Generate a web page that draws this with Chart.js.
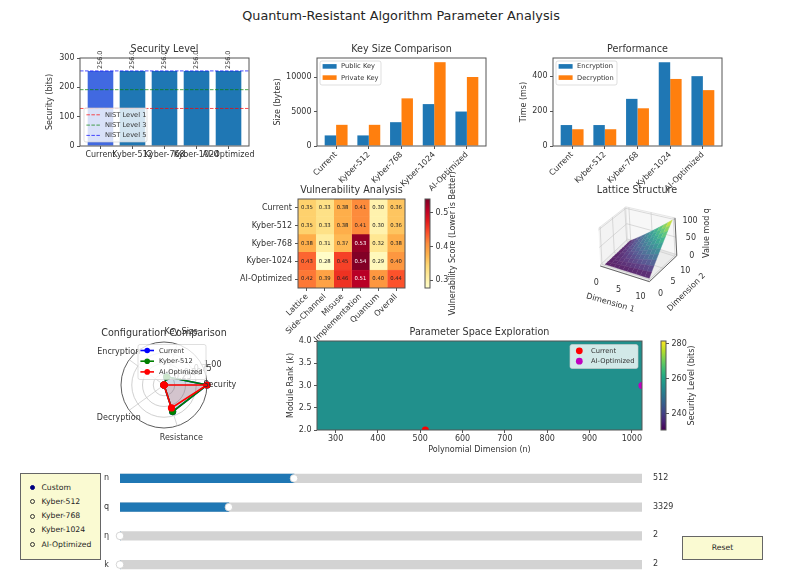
<!DOCTYPE html>
<html lang="en">
<head>
<meta charset="UTF-8" />
<title>Quantum-Resistant Algorithm Parameter Analysis</title>
<script src="https://cdn.jsdelivr.net/npm/chart.js@4"></script>
<style>
  html, body { margin: 0; padding: 0; background: #fff; overflow: hidden; width: 802px; height: 573px; }
  body { position: relative; font-family: "DejaVu Sans", sans-serif; color: #262626; }
  canvas { position: absolute; }
  #mainTitle { position: absolute; left: 0; width: 802px; top: 8px; text-align: center; font-size: 12.8px; line-height: 16px; }
  #radioBox { position: absolute; left: 20px; top: 473px; width: 79px; height: 85px; background: #fafad2; border: 1px solid #666; }
  .radio { position: absolute; left: 20.5px; font-size: 7.7px; line-height: 10px; white-space: nowrap; }
  .dot { position: absolute; left: -11.5px; top: 2.5px; width: 3px; height: 3px; border: 1px solid #333; border-radius: 50%; background: #fafad2; }
  .dot.on { background: #000080; border-color: #000080; }
  #resetBtn { position: absolute; left: 682px; top: 536px; width: 79px; height: 22px; background: #fafad2; border: 1px solid #666; text-align: center; font-size: 7.7px; line-height: 21px; }
</style>
</head>
<body>
<div id="mainTitle">Quantum-Resistant Algorithm Parameter Analysis</div>
<div id="radioBox"></div>
<div id="resetBtn">Reset</div>

<script>
// data
const configs = ['Current', 'Kyber-512', 'Kyber-768', 'Kyber-1024', 'AI-Optimized'];
const securityBits = [256, 256, 256, 256, 256];
const securityTicks = [0, 100, 200, 300];
const nistLevels = [128, 192, 256];
const nistNames = ['NIST Level 1', 'NIST Level 3', 'NIST Level 5'];

const publicKey = [1536, 1536, 3456, 6080, 5000];
const privateKey = [3072, 3072, 6912, 12160, 10000];
const keyTicks = [0, 5000, 10000];

const encryption = [120, 120, 270, 480, 400];
const decryption = [96, 96, 216, 384, 320];
const perfTicks = [0, 200, 400];

const vulnCols = ['Lattice', 'Side-Channel', 'Misuse', 'Implementation', 'Quantum', 'Overall'];
const vulnRows = [
  [0.35, 0.33, 0.38, 0.41, 0.30, 0.36],
  [0.35, 0.33, 0.38, 0.41, 0.30, 0.36],
  [0.38, 0.31, 0.37, 0.53, 0.32, 0.38],
  [0.43, 0.28, 0.45, 0.54, 0.29, 0.40],
  [0.42, 0.39, 0.46, 0.51, 0.40, 0.44]
];
const vulnTicks = [0.3, 0.4, 0.5];

const latticeTicks = [0, 5, 10];
const latticeZTicks = [0, 50, 100];
const latticeValues = [
  [0, 0, 0, 0, 0, 0, 0, 0, 0, 0, 0],
  [0, 1, 2, 3, 4, 5, 6, 7, 8, 9, 10],
  [0, 2, 4, 6, 8, 10, 12, 14, 16, 18, 20],
  [0, 3, 6, 9, 12, 15, 18, 21, 24, 27, 30],
  [0, 4, 8, 12, 16, 20, 24, 28, 32, 36, 40],
  [0, 5, 10, 15, 20, 25, 30, 35, 40, 45, 50],
  [0, 6, 12, 18, 24, 30, 36, 42, 48, 54, 60],
  [0, 7, 14, 21, 28, 35, 42, 49, 56, 63, 70],
  [0, 8, 16, 24, 32, 40, 48, 56, 64, 72, 80],
  [0, 9, 18, 27, 36, 45, 54, 63, 72, 81, 90],
  [0, 10, 20, 30, 40, 50, 60, 70, 80, 90, 100]
];

// clockwise from the right, the way the radar scale walks round
const radarAxes = ['Security', 'Resistance', 'Decryption', 'Encryption', 'Key Size'];
const radarCurrent = [1, 0.65, 0, 0, 0.2];
const radarKyber = [1, 0.65, 0, 0, 0.2];
const radarAI = [1, 0.56, 0, 0, 0];
const radarTicks = [0.25, 0.5, 0.75, 1];

const paramNRange = [256, 1024];
const paramKRange = [2, 4];
const paramSecurity = 256;
const paramXTicks = [300, 400, 500, 600, 700, 800, 900, 1000];
const paramYTicks = [2, 2.5, 3, 3.5, 4];
const currentPoint = [512, 2];
const aiPoint = [1024, 3];
const securityBarTicks = [240, 260, 280];

const sliderNames = ['n', 'q', 'η', 'k'];
const sliderValues = [512, 3329, 2, 2];
const sliderMins = [256, 2048, 2, 2];
const sliderMaxes = [1024, 8192, 4, 4];
const radioOptions = ['Custom', 'Kyber-512', 'Kyber-768', 'Kyber-1024', 'AI-Optimized'];

const FONT = '"DejaVu Sans", sans-serif';
const TXT = '#333';
const EDGE = '#555';
const M = 100, T = 40, B = 80;

Chart.defaults.font.family = FONT;
Chart.defaults.font.size = 8;
Chart.defaults.color = TXT;
Chart.defaults.animation = false;

// titles centre on the plot, not on the padded box, and may run wider than it
Chart.register({
  id: 'titleOverPlot',
  afterLayout(chart) {
    const t = chart.titleBlock, a = chart.chartArea;
    if (t && a) { t.left = a.left - 60; t.right = a.right + 60; }
  }
});

const viridis = ['#440154', '#482475', '#414487', '#355f8d', '#2a788e', '#21918c', '#22a884', '#44bf70', '#7ad151', '#bddf26', '#fde725'];
const ylOrRd = ['#ffffcc', '#ffeda0', '#fed976', '#feb24c', '#fd8d3c', '#fc4e2a', '#e31a1c', '#bd0026', '#800026'];

function hex(c) { return [1, 3, 5].map(i => parseInt(c.substr(i, 2), 16)); }
function cmap(stops, t, wash) {
  t = Math.max(0, Math.min(1, t)) * (stops.length - 1);
  const i = Math.min(Math.floor(t), stops.length - 2), f = t - i;
  const a = hex(stops[i]), b = hex(stops[i + 1]);
  const w = wash || 0;
  return `rgb(${a.map((v, k) => Math.round((v + (b[k] - v) * f) * (1 - w) + 225 * w)).join(',')})`;
}
function gradient(stops) {
  return ctx => {
    const area = ctx.chart.chartArea;
    if (!area) return stops[0];
    const g = ctx.chart.ctx.createLinearGradient(0, area.bottom, 0, area.top);
    stops.forEach((c, i) => g.addColorStop(i / (stops.length - 1), c));
    return g;
  };
}

// put a canvas so the plot area lands on a given page rectangle
function addCanvas(rect) {
  const c = document.createElement('canvas');
  c.width = rect.r - rect.l + 2 * M;
  c.height = rect.b - rect.t + T + B;
  c.style.left = (rect.l - M) + 'px';
  c.style.top = (rect.t - T) + 'px';
  c.style.width = c.width + 'px';
  c.style.height = c.height + 'px';
  document.body.appendChild(c);
  return c;
}
function padding(title, yw, xh, right) {
  const top = title ? T - 14.52 : T;
  return right ? { left: M, right: M - yw, top, bottom: B - xh } : { left: M - yw, right: M, top, bottom: B - xh };
}
function titleOpt(text) {
  return text ? { display: true, text, color: TXT, font: { size: 9.6, weight: 'normal' }, padding: { top: 0, bottom: 3 } } : { display: false };
}
const tickGrid = { drawOnChartArea: false, drawTicks: true, tickLength: 3, tickColor: EDGE, offset: false };

function xAxis(opts) {
  return Object.assign({
    type: 'linear', offset: false, grid: tickGrid, border: { display: false },
    afterFit(s) { s.height = opts.height; s.paddingLeft = s.paddingRight = 0; },
    afterBuildTicks(s) { s.ticks = opts.tickValues.map(value => ({ value })); },
    ticks: { autoSkip: false, padding: 1, minRotation: opts.rot || 0, maxRotation: opts.rot || 0, callback: opts.label }
  }, opts.extra);
}
function yAxis(opts) {
  return Object.assign({
    type: 'linear', grid: tickGrid, border: { display: false },
    afterFit(s) { s.width = opts.width; s.paddingTop = s.paddingBottom = 0; },
    afterBuildTicks(s) { s.ticks = opts.tickValues.map(value => ({ value })); },
    ticks: { autoSkip: false, padding: 2.5, callback: opts.label || (v => String(v)) }
  }, opts.extra);
}
function axisTitle(text) {
  return { display: true, text, color: TXT, padding: 0, font: { size: 8 } };
}

const framePlugin = {
  id: 'frame',
  afterDatasetsDraw(chart) {
    const a = chart.chartArea, c = chart.ctx;
    c.save();
    c.strokeStyle = EDGE;
    c.lineWidth = 1;
    c.strokeRect(a.left, a.top, a.right - a.left, a.bottom - a.top);
    c.restore();
  }
};

// legend box sitting inside the axes, offsets are from the chart area
function boxLegend(o) {
  return {
    id: 'boxLegend',
    afterDraw(chart) {
      const a = chart.chartArea, c = chart.ctx;
      const x = a.left + o.x, y = a.top + o.y;
      c.save();
      c.fillStyle = 'rgba(255,255,255,0.8)';
      c.strokeStyle = 'rgba(204,204,204,0.8)';
      c.lineWidth = 0.8;
      c.beginPath();
      c.roundRect(x, y, o.w, o.h, 2);
      c.fill();
      c.stroke();
      c.font = '6.7px ' + FONT;
      c.textBaseline = 'middle';
      o.items.forEach((it, i) => {
        const ry = y + o.first + i * o.gap;
        if (it.kind === 'swatch') {
          c.fillStyle = it.color;
          c.fillRect(x + 2.6, ry - 2.3, 14, 4.6);
        } else if (it.kind === 'marker') {
          c.fillStyle = it.color;
          c.beginPath();
          c.arc(x + 9.3, ry, 3.4, 0, Math.PI * 2);
          c.fill();
        } else {
          c.strokeStyle = it.color;
          c.lineWidth = it.dash ? 1 : 1.6;
          c.setLineDash(it.dash || []);
          c.beginPath();
          c.moveTo(x + 2.4, ry);
          c.lineTo(x + 16, ry);
          c.stroke();
          c.setLineDash([]);
          if (it.dot) {
            c.fillStyle = it.color;
            c.beginPath();
            c.arc(x + 9.2, ry, 2.8, 0, Math.PI * 2);
            c.fill();
          }
        }
        c.fillStyle = TXT;
        c.textAlign = 'left';
        c.fillText(it.label, x + 21, ry + 0.3);
      });
      c.restore();
    }
  };
}

// --- Security Level ---
const secRect = { l: 80, r: 249, t: 58, b: 146 };
const secLim = [-0.64, 4.64];
const nistColors = ['rgba(255,0,0,0.7)', 'rgba(0,128,0,0.7)', 'rgba(0,0,255,0.7)'];
new Chart(addCanvas(secRect), {
  type: 'bar',
  data: {
    datasets: [
      {
        label: 'Security', order: 5,
        data: securityBits.map((y, x) => ({ x, y })),
        backgroundColor: configs.map((_, i) => i === 0 ? '#4169e1' : '#1f77b4'),
        barPercentage: 1, categoryPercentage: 0.8
      }
    ].concat(nistLevels.map((y, i) => ({
      type: 'line', label: nistNames[i], order: 3 - i,
      data: secLim.map(x => ({ x, y })),
      borderColor: nistColors[i], borderWidth: 1, borderDash: [3.5, 1.5], pointRadius: 0
    })))
  },
  options: {
    responsive: false, layout: { padding: padding(true, 35, 15) },
    plugins: { legend: { display: false }, tooltip: { enabled: false }, title: titleOpt('Security Level') },
    scales: {
      x: xAxis({ height: 15, tickValues: configs.map((_, i) => i), label: v => configs[v], extra: { min: secLim[0], max: secLim[1] } }),
      y: yAxis({ width: 35, tickValues: securityTicks, extra: { min: 0, max: 300, title: axisTitle('Security (bits)') } })
    }
  },
  plugins: [framePlugin, {
    id: 'barLabels',
    afterDatasetsDraw(chart) {
      const c = chart.ctx;
      const sx = chart.scales.x, sy = chart.scales.y;
      c.save();
      c.font = '6.4px ' + FONT;
      c.fillStyle = TXT;
      c.textBaseline = 'middle';
      c.textAlign = 'left';
      securityBits.forEach((v, i) => {
        c.save();
        c.translate(sx.getPixelForValue(i), sy.getPixelForValue(v) - 2);
        c.rotate(-Math.PI / 2);
        c.fillText(v.toFixed(1), 0, 0);
        c.restore();
      });
      c.restore();
    }
  }, boxLegend({
    x: 4, y: 50, w: 63, h: 34, first: 6.8, gap: 10.3,
    items: nistNames.map((label, i) => ({ kind: 'line', color: nistColors[i], dash: [3.5, 1.5], label }))
  })]
});

// --- grouped bar panels ---
function groupedBars(rect, title, yLabel, yw, names, a, b, yMax, ticks) {
  const lim = [-0.585, 4.585];
  const colors = ['#1f77b4', '#ff7f0e'];
  new Chart(addCanvas(rect), {
    type: 'bar',
    data: {
      datasets: [a, b].map((vals, k) => ({
        label: names[k],
        data: vals.map((y, x) => ({ x, y })),
        backgroundColor: colors[k],
        barPercentage: 1, categoryPercentage: 0.7
      }))
    },
    options: {
      responsive: false, layout: { padding: padding(true, yw, B) },
      plugins: { legend: { display: false }, tooltip: { enabled: false }, title: titleOpt(title) },
      scales: {
        x: xAxis({ height: B, rot: 45, tickValues: configs.map((_, i) => i), label: v => configs[v], extra: { min: lim[0], max: lim[1] } }),
        y: yAxis({ width: yw, tickValues: ticks, extra: { min: 0, max: yMax, title: axisTitle(yLabel) } })
      }
    },
    plugins: [framePlugin, boxLegend({
      x: 3, y: 3, w: 61, h: 24, first: 5.4, gap: 11.2,
      items: names.map((label, k) => ({ kind: 'swatch', color: colors[k], label }))
    })]
  });
}
groupedBars({ l: 317, r: 486, t: 58, b: 146 }, 'Key Size Comparison', 'Size (bytes)', 44, ['Public Key', 'Private Key'], publicKey, privateKey, 12768, keyTicks);
groupedBars({ l: 553, r: 722, t: 58, b: 146 }, 'Performance', 'Time (ms)', 34, ['Encryption', 'Decryption'], encryption, decryption, 504, perfTicks);

// --- Vulnerability heatmap, one floating bar per cell ---
const vulnMin = 0.277, vulnMax = 0.541;
const heatRect = { l: 298, r: 405, t: 199, b: 288 };
new Chart(addCanvas(heatRect), {
  type: 'bar',
  data: {
    labels: configs,
    datasets: vulnCols.map((name, c) => ({
      label: name,
      data: vulnRows.map(() => [c - 0.5, c + 0.5]),
      backgroundColor: vulnRows.map(r => cmap(ylOrRd, (r[c] - vulnMin) / (vulnMax - vulnMin))),
      borderColor: vulnRows.map(r => cmap(ylOrRd, (r[c] - vulnMin) / (vulnMax - vulnMin))),
      borderWidth: 0.3,
      barPercentage: 1, categoryPercentage: 1, grouped: false
    }))
  },
  options: {
    indexAxis: 'y', responsive: false, layout: { padding: padding(true, 58, B) },
    plugins: { legend: { display: false }, tooltip: { enabled: false }, title: titleOpt('Vulnerability Analysis') },
    scales: {
      x: xAxis({ height: B, rot: 45, tickValues: vulnCols.map((_, i) => i), label: v => vulnCols[v], extra: { min: -0.5, max: 5.5 } }),
      y: {
        type: 'category', grid: { drawOnChartArea: false, tickLength: 3, tickColor: EDGE, offset: false },
        border: { display: false }, ticks: { padding: 3, autoSkip: false },
        afterFit(s) { s.width = 58; s.paddingTop = s.paddingBottom = 0; }
      }
    }
  },
  plugins: [framePlugin, {
    id: 'cellText',
    afterDatasetsDraw(chart) {
      const c = chart.ctx;
      c.save();
      c.font = '5.3px ' + FONT;
      c.textAlign = 'center';
      c.textBaseline = 'middle';
      vulnRows.forEach((r, row) => r.forEach((v, col) => {
        c.fillStyle = v >= 0.5 ? '#fff' : '#222';
        c.fillText(v.toFixed(2), chart.scales.x.getPixelForValue(col), chart.scales.y.getPixelForValue(row));
      }));
      c.restore();
    }
  }]
});

// colorbars: one tall floating bar on a value axis, label reads upward
function colorbar(rect, stops, min, max, ticks, labelOffset, label, fmt) {
  new Chart(addCanvas(rect), {
    type: 'bar',
    data: { labels: [''], datasets: [{ data: [[min, max]], backgroundColor: gradient(stops), barPercentage: 1, categoryPercentage: 1 }] },
    options: {
      responsive: false, layout: { padding: padding(false, 30, 0, true) },
      plugins: { legend: { display: false }, tooltip: { enabled: false } },
      scales: {
        x: { display: false },
        y: yAxis({ width: 30, tickValues: ticks, label: fmt, extra: { position: 'right', min, max } })
      }
    },
    plugins: [framePlugin, {
      id: 'barLabel',
      afterDatasetsDraw(chart) {
        const a = chart.chartArea, c = chart.ctx;
        c.save();
        c.font = '8px ' + FONT;
        c.fillStyle = TXT;
        c.textAlign = 'center';
        c.textBaseline = 'middle';
        c.translate(a.right + labelOffset, (a.top + a.bottom) / 2);
        c.rotate(-Math.PI / 2);
        c.fillText(label, 0, 0);
        c.restore();
      }
    }]
  });
}
colorbar({ l: 425, r: 430, t: 199, b: 288 }, ylOrRd, vulnMin, vulnMax, vulnTicks, 23, 'Vulnerability Score (Lower is Better)', v => v.toFixed(1));

// --- Lattice surface, projected by hand on a hidden page-pixel scale ---
const latRect = { l: 577, r: 697, t: 199, b: 310 };
function project(i, j, z) {
  const f = 1 - 0.011 * (j - i);
  return { x: 605 + 4.43 * i + 2.47 * j - 0.017 * z, y: 264.3 + 1.4 * i - 2.33 * j - 0.35 * z * f };
}
const bx = [-0.7, 10.4], bz = [-3, 105];
function poly(pts, fill, stroke, order, width) {
  return {
    showLine: true, tension: 0, pointRadius: 0, order, data: pts,
    backgroundColor: fill, borderColor: stroke, borderWidth: width, fill: fill ? 'shape' : false
  };
}
const latSets = [];
// panes
latSets.push(poly([project(bx[0], bx[0], bz[0]), project(bx[1], bx[0], bz[0]), project(bx[1], bx[1], bz[0]), project(bx[0], bx[1], bz[0])], '#ececec', '#e0e0e0', 900, 0.6));
latSets.push(poly([project(bx[0], bx[0], bz[0]), project(bx[0], bx[1], bz[0]), project(bx[0], bx[1], bz[1]), project(bx[0], bx[0], bz[1])], '#f3f3f3', '#d8d8d8', 900, 0.6));
latSets.push(poly([project(bx[0], bx[1], bz[0]), project(bx[1], bx[1], bz[0]), project(bx[1], bx[1], bz[1]), project(bx[0], bx[1], bz[1])], '#f7f7f7', '#d8d8d8', 900, 0.6));
// grid lines on panes
latticeTicks.forEach(t => {
  latSets.push(poly([project(bx[0], t, bz[0]), project(bx[0], t, bz[1])], null, '#c4c4c4', 800, 0.6));
  latSets.push(poly([project(t, bx[1], bz[0]), project(t, bx[1], bz[1])], null, '#c4c4c4', 800, 0.6));
  latSets.push(poly([project(t, bx[0], bz[0]), project(t, bx[1], bz[0])], null, '#c4c4c4', 800, 0.6));
  latSets.push(poly([project(bx[0], t, bz[0]), project(bx[1], t, bz[0])], null, '#c4c4c4', 800, 0.6));
});
latticeZTicks.forEach(z => {
  latSets.push(poly([project(bx[0], bx[0], z), project(bx[0], bx[1], z), project(bx[1], bx[1], z)], null, '#c4c4c4', 800, 0.6));
});
// surface, far cells first
for (let i = 0; i < latticeValues.length - 1; i++) {
  for (let j = 0; j < latticeValues[i].length - 1; j++) {
    const v = latticeValues;
    const col = cmap(viridis, (v[i][j] + v[i + 1][j] + v[i][j + 1] + v[i + 1][j + 1]) / 400, 0.15);
    latSets.push(poly([
      project(i, j, v[i][j]), project(i + 1, j, v[i + 1][j]),
      project(i + 1, j + 1, v[i + 1][j + 1]), project(i, j + 1, v[i][j + 1])
    ], col, col, 300 + j - i, 0.4));
  }
}
// axis edges
latSets.push(poly([project(bx[0], bx[0], bz[0]), project(bx[1], bx[0], bz[0]), project(bx[1], bx[1], bz[0]), project(bx[1], bx[1], bz[1])], null, '#444', 1, 0.8));
new Chart(addCanvas(latRect), {
  type: 'scatter',
  data: { datasets: latSets },
  options: {
    responsive: false, layout: { padding: { left: M, right: M, top: T - 14.52, bottom: B } },
    plugins: { legend: { display: false }, tooltip: { enabled: false }, title: titleOpt('Lattice Structure') },
    scales: {
      x: { display: false, min: latRect.l, max: latRect.r },
      y: { display: false, min: latRect.t, max: latRect.b, reverse: true }
    },
    datasets: { scatter: { clip: false } }
  },
  plugins: [{
    id: 'latticeText',
    afterDatasetsDraw(chart) {
      const c = chart.ctx, sx = chart.scales.x, sy = chart.scales.y;
      const put = (text, px, py, rot) => {
        c.save();
        c.translate(sx.getPixelForValue(px), sy.getPixelForValue(py));
        if (rot) c.rotate(rot * Math.PI / 180);
        c.fillText(text, 0, 0);
        c.restore();
      };
      c.save();
      c.font = '8px ' + FONT;
      c.fillStyle = TXT;
      c.textAlign = 'center';
      c.textBaseline = 'middle';
      latticeTicks.forEach(t => {
        const p = project(t, bx[0], 0);
        put(String(t), p.x - 7, p.y + 17);
        const q = project(bx[1], t, 0);
        put(String(t), q.x + 9.5, q.y + 15);
      });
      latticeZTicks.forEach(z => {
        const p = project(bx[1], bx[1], z);
        put(String(z), p.x + 15, p.y + 1);
      });
      const d1 = project(5, bx[0], 0);
      put('Dimension 1', d1.x - 15, d1.y + 30, 16);
      const d2 = project(bx[1], 5, 0);
      put('Dimension 2', d2.x + 23, d2.y + 25, -45);
      put('Value mod q', 707, 233, -90);
      c.restore();
    }
  }]
});

// --- Radar ---
const radarRect = { l: 121, r: 207, t: 342, b: 428 };
const radarColors = ['#0000ff', '#008000', '#ff0000'];
const radarNames = ['Current', 'Kyber-512', 'AI-Optimized'];
new Chart(addCanvas(radarRect), {
  type: 'radar',
  data: {
    labels: radarAxes,
    datasets: [radarCurrent, radarKyber, radarAI].map((data, k) => ({
      label: radarNames[k], data, order: 3 - k,
      borderColor: radarColors[k], pointBackgroundColor: radarColors[k], pointBorderColor: radarColors[k],
      backgroundColor: ['rgba(0,0,255,0.1)', 'rgba(0,128,0,0.1)', 'rgba(255,0,0,0.1)'][k],
      fill: true, borderWidth: 1.6, pointRadius: 2.8, tension: 0
    }))
  },
  options: {
    responsive: false, layout: { padding: { left: M, right: M, top: T - 14.52, bottom: B } },
    plugins: { legend: { display: false }, tooltip: { enabled: false }, title: titleOpt('Configuration Comparison') },
    scales: {
      r: {
        min: 0, max: 1, startAngle: 90,
        afterBuildTicks(s) { s.ticks = [0].concat(radarTicks).map(value => ({ value })); },
        ticks: { display: false },
        pointLabels: { display: false },
        angleLines: { color: '#c4c4c4', lineWidth: 0.7 },
        grid: { circular: true, lineWidth: 0.8, color: ctx => ctx.tick.value === 1 ? '#333' : '#c4c4c4' }
      }
    }
  },
  plugins: [{
    id: 'radarText',
    afterDatasetsDraw(chart) {
      const c = chart.ctx, r = chart.scales.r;
      c.save();
      c.font = '8px ' + FONT;
      c.fillStyle = TXT;
      c.textAlign = 'center';
      c.textBaseline = 'middle';
      radarAxes.forEach((name, i) => {
        const p = r.getPointPosition(i, r.drawingArea * 1.3);
        c.fillText(name, p.x, p.y);
      });
      c.textAlign = 'left';
      c.textBaseline = 'bottom';
      radarTicks.forEach(v => {
        const p = r.getPointPositionForValue(-0.3125, v);
        c.fillText(v.toFixed(2), p.x, p.y);
      });
      c.restore();
    }
  }, boxLegend({
    x: 17, y: 2.5, w: 68, h: 35, first: 6, gap: 10.7,
    items: radarNames.map((label, k) => ({ kind: 'line', dot: true, color: radarColors[k], label }))
  })]
});

// --- Parameter space ---
const secBarMin = 230.6, secBarMax = 281.7;
const paramRect = { l: 317, r: 642, t: 341, b: 430 };
new Chart(addCanvas(paramRect), {
  type: 'scatter',
  data: {
    datasets: [
      { data: [{ x: currentPoint[0], y: currentPoint[1] }], backgroundColor: '#ff0000', borderWidth: 0, pointRadius: 3.6, order: 1 },
      { data: [{ x: aiPoint[0], y: aiPoint[1] }], backgroundColor: '#bf00bf', borderWidth: 0, pointRadius: 3.6, order: 1 },
      {
        showLine: true, pointRadius: 0, order: 5, fill: 'start', borderWidth: 0,
        data: paramNRange.map(x => ({ x, y: paramKRange[1] })),
        backgroundColor: cmap(viridis, (paramSecurity - secBarMin) / (secBarMax - secBarMin))
      }
    ]
  },
  options: {
    responsive: false, layout: { padding: padding(true, 31, 25) },
    plugins: { legend: { display: false }, tooltip: { enabled: false }, title: titleOpt('Parameter Space Exploration') },
    scales: {
      x: xAxis({ height: 25, tickValues: paramXTicks, label: v => String(v), extra: { min: paramNRange[0], max: paramNRange[1], title: axisTitle('Polynomial Dimension (n)') } }),
      y: yAxis({ width: 31, tickValues: paramYTicks, label: v => v.toFixed(1), extra: { min: paramKRange[0], max: paramKRange[1], title: axisTitle('Module Rank (k)') } })
    }
  },
  plugins: [framePlugin, boxLegend({
    x: 253, y: 3.5, w: 68, h: 24, first: 6.3, gap: 10.4,
    items: [{ kind: 'marker', color: '#ff0000', label: 'Current' }, { kind: 'marker', color: '#bf00bf', label: 'AI-Optimized' }]
  })]
});
colorbar({ l: 661, r: 666, t: 341, b: 430 }, viridis, secBarMin, secBarMax, securityBarTicks, 26, 'Security Level (bits)', v => String(v));

// --- sliders as horizontal bars, the scale runs over the slider's range ---
const sliderFraction = sliderValues.map((v, i) => (v - sliderMins[i]) / (sliderMaxes[i] - sliderMins[i]));
const sliderRect = { l: 120, r: 642, t: 464, b: 579 };
new Chart(addCanvas(sliderRect), {
  type: 'bar',
  data: {
    labels: sliderNames,
    datasets: [
      { data: sliderFraction, backgroundColor: '#1f77b4', barThickness: 8.5, grouped: false, order: 1 },
      { data: sliderNames.map(() => 1), backgroundColor: '#d3d3d3', barThickness: 8.5, grouped: false, order: 2 }
    ]
  },
  options: {
    indexAxis: 'y', responsive: false,
    layout: { padding: { left: M - 30, right: M, top: T, bottom: B } },
    plugins: { legend: { display: false }, tooltip: { enabled: false } },
    scales: {
      x: { display: false, min: 0, max: 1 },
      y: {
        grid: { display: false, drawTicks: false }, border: { display: false },
        ticks: { padding: 11, color: TXT, font: { size: 8 } },
        afterFit(s) { s.width = 30; s.paddingTop = s.paddingBottom = 0; }
      }
    }
  },
  plugins: [{
    id: 'sliderBits',
    afterDatasetsDraw(chart) {
      const c = chart.ctx, sx = chart.scales.x, sy = chart.scales.y;
      c.save();
      c.font = '8px ' + FONT;
      c.textBaseline = 'middle';
      sliderValues.forEach((v, i) => {
        const py = sy.getPixelForValue(i);
        c.fillStyle = '#fff';
        c.strokeStyle = '#ccc';
        c.lineWidth = 0.8;
        c.beginPath();
        c.arc(sx.getPixelForValue(sliderFraction[i]), py, 3.8, 0, Math.PI * 2);
        c.fill();
        c.stroke();
        c.fillStyle = TXT;
        c.fillText(String(v), sx.getPixelForValue(1) + 11, py - 0.5);
      });
      c.restore();
    }
  }]
});

// --- radio list ---
const radioBox = document.getElementById('radioBox');
radioOptions.forEach((name, i) => {
  const row = document.createElement('div');
  row.className = 'radio';
  row.style.top = (8.5 + i * 14.25) + 'px';
  row.textContent = name;
  const dot = document.createElement('span');
  dot.className = i === 0 ? 'dot on' : 'dot';
  row.appendChild(dot);
  radioBox.appendChild(row);
});
</script>
</body>
</html>
